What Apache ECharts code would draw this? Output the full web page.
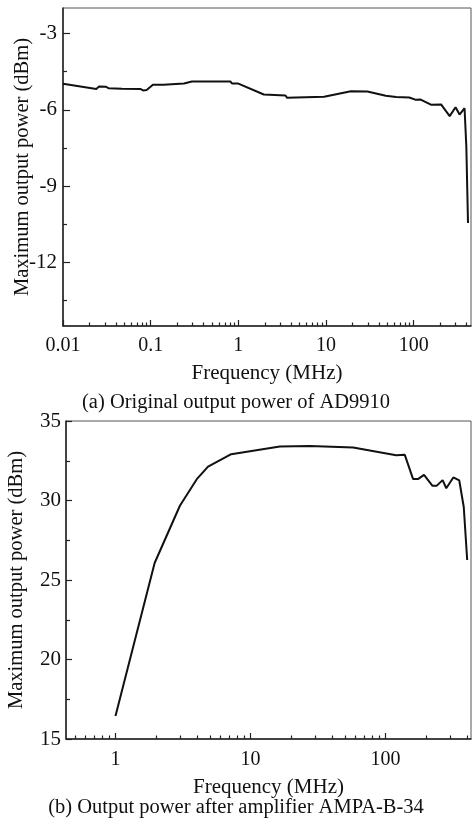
<!DOCTYPE html>
<html>
<head>
<meta charset="utf-8">
<script src="https://cdn.jsdelivr.net/npm/echarts@6/dist/echarts.min.js"></script>
<style>
html,body{margin:0;padding:0;background:#fff;}
#chart{width:472px;height:829px;}
</style>
</head>
<body>
<div id="chart"></div>
<script>
// ---- Data (a): original output power of AD9910 ----
const freqA = [0.01, 0.024, 0.0256, 0.031, 0.033, 0.047, 0.076, 0.082, 0.09, 0.106, 0.14, 0.24, 0.295, 0.81, 0.85, 1.0, 1.95, 3.45, 3.6, 9.5, 10, 19.2, 29.6, 48, 63, 89, 106, 120, 157, 205, 257, 300, 333, 380, 398, 416];
const powerA = [-4.98, -5.18, -5.09, -5.10, -5.15, -5.17, -5.18, -5.24, -5.22, -5.02, -5.02, -4.97, -4.89, -4.89, -4.97, -4.97, -5.40, -5.44, -5.53, -5.49, -5.55, -5.27, -5.28, -5.45, -5.50, -5.52, -5.61, -5.60, -5.80, -5.79, -6.25, -5.90, -6.19, -5.94, -7.44, -10.45];

// ---- Data (b): output power after amplifier AMPA-B-34 ----
const freqB = [1, 1.95, 3.0, 4.0, 4.85, 7.2, 16.5, 27.5, 57.6, 120, 139, 160, 175, 193, 223, 239, 265, 282, 318, 352, 380, 403];
const powerB = [16.45, 26.07, 29.67, 31.34, 32.13, 32.91, 33.39, 33.43, 33.33, 32.85, 32.87, 31.36, 31.36, 31.61, 30.92, 30.92, 31.28, 30.77, 31.45, 31.26, 29.59, 26.26];

// ---- Tick values ----
const majorTicksA = [0.01, 0.1, 1, 10, 100];
const minorTicksA = [0.02,0.03,0.04,0.05,0.06,0.07,0.08,0.09,0.2,0.3,0.4,0.5,0.6,0.7,0.8,0.9,2,3,4,5,6,7,8,9,20,30,40,50,60,70,80,90,200,300,400];
const yMajorA = [-12, -9, -6, -3];
const yMinorA = [-13.5, -10.5, -7.5, -4.5];
const majorTicksB = [1, 10, 100];
const minorTicksB = [0.5,0.6,0.7,0.8,0.9,2,3,4,5,6,7,8,9,20,30,40,50,60,70,80,90,200,300,400];

const captionA = '(a) Original output power of AD9910';
const captionB = '(b) Output power after amplifier AMPA-B-34';
const xName = 'Frequency (MHz)';
const yName = 'Maximum output power (dBm)';

const FONT = 'Liberation Serif';
const INK = '#111';
const AXIS = '#222';

function fmtNum(v){ return String(parseFloat(Number(v).toPrecision(6))); }

function majorX(grid, min, max, ticks, margin, gap){
  return {
    type: 'log', logBase: 10, gridIndex: grid, position: 'bottom', min: min, max: max,
    name: xName, nameLocation: 'middle', nameGap: gap,
    nameTextStyle: {fontFamily: FONT, fontSize: 21, color: INK},
    axisLine: {show: true, onZero: false, lineStyle: {color: AXIS, width: 1.5}},
    axisTick: {show: true, inside: true, length: 6, customValues: ticks, lineStyle: {color: AXIS, width: 1.2}},
    axisLabel: {show: true, customValues: ticks, margin: margin, fontFamily: FONT, fontSize: 20, color: INK, formatter: fmtNum},
    splitLine: {show: false}, minorTick: {show: false}, minorSplitLine: {show: false}
  };
}
function minorX(grid, min, max, ticks){
  return {
    type: 'log', logBase: 10, gridIndex: grid, position: 'bottom', min: min, max: max,
    axisLine: {show: false, onZero: false},
    axisTick: {show: true, inside: true, length: 3.5, customValues: ticks, lineStyle: {color: AXIS, width: 1.2}},
    axisLabel: {show: false},
    splitLine: {show: false}
  };
}

const option = {
  backgroundColor: '#fff',
  animation: false,
  grid: [
    {left: 63, right: 1, top: 8, height: 318, containLabel: false, outerBoundsMode: 'none', show: true, borderColor: '#555', borderWidth: 1, backgroundColor: 'transparent'},
    {left: 66, right: 1, top: 421, height: 318, containLabel: false, outerBoundsMode: 'none', show: true, borderColor: '#555', borderWidth: 1, backgroundColor: 'transparent'}
  ],
  xAxis: [
    majorX(0, 0.01, 450, majorTicksA, 10, 37),
    minorX(0, 0.01, 450, minorTicksA),
    majorX(1, 0.43, 430, majorTicksB, 11, 38),
    minorX(1, 0.43, 430, minorTicksB)
  ],
  yAxis: [
    {
      type: 'value', gridIndex: 0, position: 'left', min: -14.5, max: -2,
      name: yName, nameLocation: 'middle', nameGap: 30, nameMoveOverlap: false,
      nameTextStyle: {fontFamily: FONT, fontSize: 20.5, color: INK},
      axisLine: {show: true, onZero: false, lineStyle: {color: AXIS, width: 1.5}},
      axisTick: {show: true, inside: true, length: 7, customValues: yMajorA, lineStyle: {color: AXIS, width: 1.2}},
      axisLabel: {show: true, customValues: yMajorA, margin: 6, fontFamily: FONT, fontSize: 21, color: INK},
      splitLine: {show: false}
    },
    {
      type: 'value', gridIndex: 0, position: 'left', min: -14.5, max: -2,
      axisLine: {show: false, onZero: false},
      axisTick: {show: true, inside: true, length: 4, customValues: yMinorA, lineStyle: {color: AXIS, width: 1.2}},
      axisLabel: {show: false},
      splitLine: {show: false}
    },
    {
      type: 'value', gridIndex: 1, position: 'left', min: 15, max: 35, interval: 5,
      name: yName, nameLocation: 'middle', nameGap: 39, nameMoveOverlap: false,
      nameTextStyle: {fontFamily: FONT, fontSize: 20.5, color: INK},
      axisLine: {show: true, onZero: false, lineStyle: {color: AXIS, width: 1.5}},
      axisTick: {show: true, inside: true, length: 6, lineStyle: {color: AXIS, width: 1.2}},
      minorTick: {show: true, splitNumber: 2, length: 4, lineStyle: {color: AXIS, width: 1.2}},
      axisLabel: {show: true, margin: 5, fontFamily: FONT, fontSize: 21, color: INK},
      splitLine: {show: false}
    }
  ],
  graphic: [
    {type: 'text', left: 'center', top: 392, style: {text: captionA, font: '20.5px "' + FONT + '"', fill: INK}},
    {type: 'text', left: 'center', top: 797, style: {text: captionB, font: '20.5px "' + FONT + '"', fill: INK}}
  ],
  series: [
    {
      type: 'line', xAxisIndex: 0, yAxisIndex: 0, showSymbol: false, symbol: 'none',
      data: freqA.map((f, i) => [f, powerA[i]]),
      lineStyle: {color: '#111', width: 2}, silent: true
    },
    {
      type: 'line', xAxisIndex: 2, yAxisIndex: 2, showSymbol: false, symbol: 'none',
      data: freqB.map((f, i) => [f, powerB[i]]),
      lineStyle: {color: '#111', width: 2}, silent: true
    }
  ]
};
const chart = echarts.init(document.getElementById('chart'), null, {renderer: 'canvas'});
chart.setOption(option);
</script>
</body>
</html>
